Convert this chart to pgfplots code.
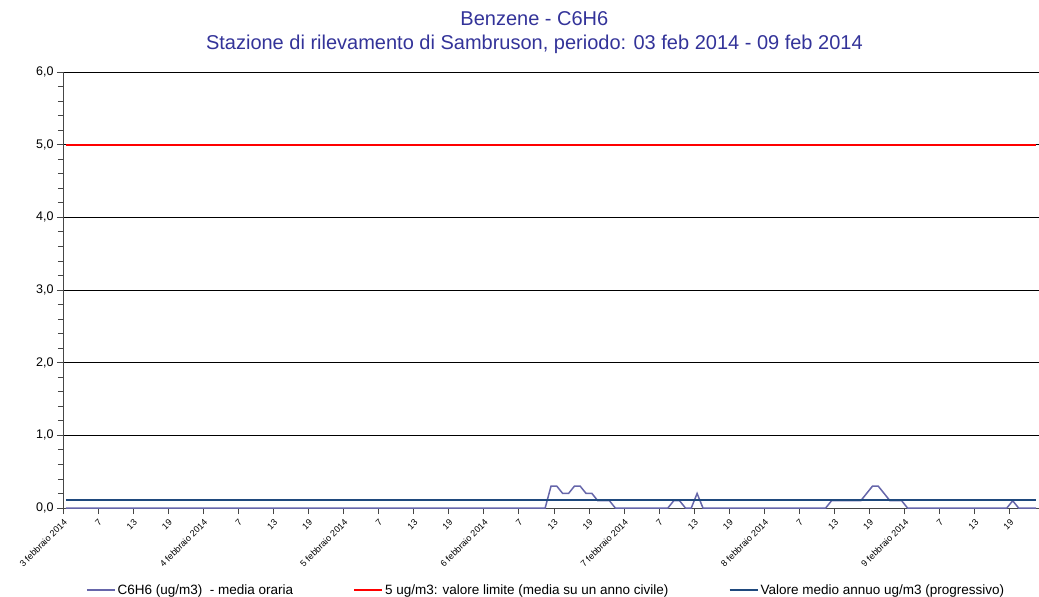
\documentclass[border=0pt]{standalone}
\usepackage{fontspec}
\setmainfont{Liberation Sans}
\usepackage{pgfplots}
\pgfplotsset{compat=1.18}
\definecolor{ttl}{RGB}{51,51,153}
\definecolor{cbenz}{RGB}{102,102,170}
\definecolor{cmean}{RGB}{31,73,125}
\definecolor{axg}{RGB}{70,70,70}
\begin{document}
\begin{tikzpicture}
\path[use as bounding box] (-63pt,-89pt) rectangle (976pt,508pt);
\begin{axis}[
  at={(0pt,0pt)}, anchor=south west,
  scale only axis, width=976pt, height=436pt,
  xmin=0, xmax=167, ymin=0, ymax=6,
  axis x line*=bottom, axis y line*=left,
  axis line style={-, draw=axg, line width=0.8pt},
  tick style={draw=axg, line width=0.8pt},
  tick align=outside,
  major tick length=6pt, minor tick length=5pt,
  ytick={0,1,2,3,4,5,6}, minor y tick num=4,
  ymajorgrids, grid style={black, line width=0.8pt},
  xtick={0,6,...,162},
  xticklabels={3 febbraio 2014,7,13,19,4 febbraio 2014,7,13,19,5 febbraio 2014,7,13,19,6 febbraio 2014,7,13,19,7 febbraio 2014,7,13,19,8 febbraio 2014,7,13,19,9 febbraio 2014,7,13,19},
  xticklabel style={font=\fontsize{9}{10}\selectfont, rotate=45, anchor=north east, inner sep=3pt},
  yticklabel style={font=\fontsize{12.5}{14}\selectfont},
  /pgf/number format/.cd, fixed, fixed zerofill, precision=1, use comma, assume math mode=true,
  /pgfplots/.cd,
  title={Benzene - C6H6\\Stazione di rilevamento di Sambruson, periodo: 03 feb 2014 - 09 feb 2014},
  title style={at={(0.483,1)}, anchor=south, yshift=12pt, inner sep=0pt, align=center, text=ttl, font=\fontsize{20}{24}\selectfont},
  legend columns=3,
  legend style={at={(0.495,0)}, anchor=center, yshift=-82pt, draw=none, fill=none, font=\fontsize{13.5}{15}\selectfont, /tikz/every even column/.append style={column sep=58pt}},
  legend image code/.code={\draw[#1] (0pt,0pt) -- (28pt,0pt);},
]
\addplot[cbenz, line width=1.5pt] coordinates {
(0.5,0) (82.5,0) (83.5,0.3) (84.5,0.3) (85.5,0.2) (86.5,0.2) (87.5,0.3) (88.5,0.3)
(89.5,0.2) (90.5,0.2) (91.5,0.1) (92.5,0.1) (93.5,0.1) (94.5,0)
(103.5,0) (104.5,0.1) (105.5,0.1) (106.5,0) (107.5,0) (108.5,0.2) (109.5,0)
(130.5,0) (131.5,0.1) (132.5,0.1) (133.5,0.1) (134.5,0.1) (135.5,0.1) (136.5,0.1)
(137.5,0.2) (138.5,0.3) (139.5,0.3) (140.5,0.2) (141.5,0.1) (142.5,0.1) (143.5,0.1) (144.5,0)
(161.5,0) (162.5,0.1) (163.5,0) (166.5,0)
};
\addlegendentry{C6H6 (ug/m3)\ \ - media oraria}
\addplot[red, line width=2pt] coordinates {(0.5,5) (166.5,5)};
\addlegendentry{5 ug/m3: valore limite (media su un anno civile)}
\addplot[cmean, line width=2pt] coordinates {(0.5,0.11) (166.5,0.11)};
\addlegendentry{Valore medio annuo ug/m3 (progressivo)}
\end{axis}
\end{tikzpicture}
\end{document}
